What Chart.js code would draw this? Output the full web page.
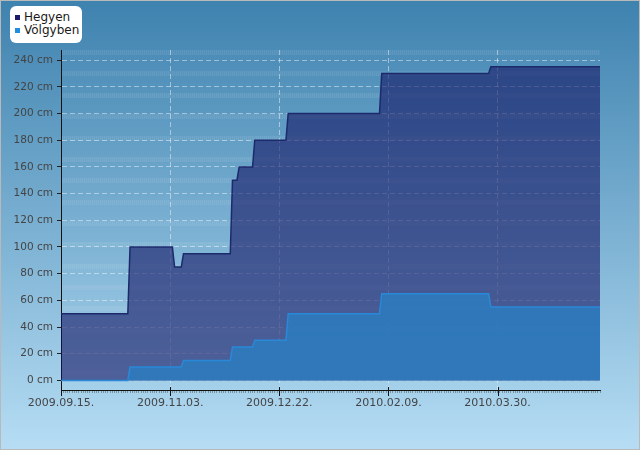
<!DOCTYPE html>
<html>
<head>
<meta charset="utf-8">
<script src="https://cdn.jsdelivr.net/npm/chart.js@4.4.1/dist/chart.umd.min.js"></script>
<style>
  html, body { margin: 0; padding: 0; background: #fff; }
  #wrap { position: relative; width: 640px; height: 450px; }
  #legend {
    position: absolute; left: 10px; top: 6px; width: 72px; height: 37px;
    background: #fff; border-radius: 6px; box-sizing: border-box;
    padding: 5px 0 0 5px; font: 12px "DejaVu Sans", sans-serif; color: #1a1a1a;
  }
  #legend div { height: 13px; line-height: 13px; white-space: nowrap; }
  #legend span { display: inline-block; width: 5px; height: 5px; margin-right: 4px; vertical-align: 1px; }
</style>
</head>
<body>
<div id="wrap">
  <canvas id="chart"></canvas>
  <div id="legend"></div>
</div>
<script>
// snow depth, cm – change points (daily readings, linear between)
var hegyenDates = ['2009-09-15', '2009-10-15', '2009-10-16', '2009-11-04', '2009-11-05', '2009-11-08',
  '2009-11-09', '2009-11-30', '2009-12-01', '2009-12-03', '2009-12-04', '2009-12-10', '2009-12-11',
  '2009-12-25', '2009-12-26', '2010-02-05', '2010-02-06', '2010-03-26', '2010-03-27', '2010-05-15'];
var hegyenValues = [50, 50, 100, 100, 85, 85, 95, 95, 150, 150, 160, 160, 180, 180, 200, 200, 230, 230, 235, 235];

var volgybenDates = ['2009-09-15', '2009-10-15', '2009-10-16', '2009-11-08', '2009-11-09', '2009-11-30',
  '2009-12-01', '2009-12-10', '2009-12-11', '2009-12-25', '2009-12-26', '2010-02-05', '2010-02-06',
  '2010-03-26', '2010-03-27', '2010-05-15'];
var volgybenValues = [0, 0, 10, 10, 15, 15, 25, 25, 30, 30, 50, 50, 65, 65, 55, 55];

var seriesNames = ['Hegyen', 'Völgyben'];
var xTickLabels = ['2009.09.15.', '2009.11.03.', '2009.12.22.', '2010.02.09.', '2010.03.30.'];
var yTickValues = [0, 20, 40, 60, 80, 100, 120, 140, 160, 180, 200, 220, 240];

var START = Date.UTC(2009, 8, 15);
function dayOf(s) {
  var p = s.replace(/\.$/, '').split(/[-.]/);
  return Math.round((Date.UTC(+p[0], +p[1] - 1, +p[2]) - START) / 86400000);
}
function points(dates, values) {
  return dates.map(function (d, i) { return { x: dayOf(d), y: values[i] }; });
}

var lastDay = dayOf('2010-05-15');
var labelDays = xTickLabels.map(dayOf);
var dayTicks = [];
for (var d = 0; d <= lastDay; d++) dayTicks.push(d);

var gridWhite = 'rgba(255,255,255,0.45)';

var bgPlugin = {
  id: 'bg',
  beforeDraw: function (chart) {
    var c = chart.ctx, a = chart.chartArea;
    var g = c.createLinearGradient(0, 0, 0, chart.height);
    g.addColorStop(0, '#3e82af');
    g.addColorStop(1, '#b6ddf4');
    c.save();
    c.fillStyle = g;
    c.fillRect(0, 0, chart.width, chart.height);
    // light textured bands in the plot area
    var y = chart.scales.y;
    for (var v = 246; v > -8; v -= 16) {
      var py = Math.round(y.getPixelForValue(v)) - 2;
      c.fillStyle = 'rgba(255,255,255,0.045)';
      c.fillRect(a.left, py, a.right - a.left, 5);
      c.fillStyle = 'rgba(255,255,255,0.06)';
      for (var px = a.left + 1; px < a.right; px += 2) c.fillRect(px, py, 1, 5);
    }
    c.restore();
  },
  afterDraw: function (chart) {
    var c = chart.ctx, x = chart.scales.x, a = chart.chartArea;
    c.save();
    c.strokeStyle = '#111';
    c.lineWidth = 1;
    labelDays.forEach(function (d) {
      var px = Math.round(x.getPixelForValue(d)) + 0.5;
      c.beginPath();
      c.moveTo(px, a.bottom - 3);
      c.lineTo(px, a.bottom + 6);
      c.stroke();
    });
    c.strokeStyle = '#b9b9b9';
    c.strokeRect(0.5, 0.5, chart.width - 1, chart.height - 1);
    c.restore();
  }
};

var ctx = document.getElementById('chart').getContext('2d');
new Chart(ctx, {
  type: 'line',
  data: {
    datasets: [
      {
        label: seriesNames[0],
        data: points(hegyenDates, hegyenValues),
        borderColor: '#1c2a6c',
        backgroundColor: 'rgba(20,22,100,0.6)',
        borderWidth: 1.5,
        fill: 'origin',
        order: 2
      },
      {
        label: seriesNames[1],
        data: points(volgybenDates, volgybenValues),
        borderColor: '#2a88d8',
        backgroundColor: 'rgba(44,125,190,0.85)',
        borderWidth: 1.5,
        fill: 'origin',
        order: 1
      }
    ]
  },
  options: {
    responsive: true,
    maintainAspectRatio: false,
    animation: false,
    layout: { padding: { left: 0, right: 40, top: 50, bottom: 0 } },
    elements: { point: { radius: 0 }, line: { tension: 0 } },
    plugins: { legend: { display: false }, tooltip: { enabled: false } },
    scales: {
      x: {
        type: 'linear',
        min: 0,
        max: lastDay,
        afterBuildTicks: function (s) { s.ticks = dayTicks.map(function (v) { return { value: v }; }); },
        afterFit: function (s) { s.height = 60; },
        ticks: {
          autoSkip: false,
          maxRotation: 0,
          minRotation: 0,
          padding: 4,
          color: '#444',
          font: { family: 'DejaVu Sans', size: 11 },
          callback: function (v) {
            var i = labelDays.indexOf(v);
            return i >= 0 ? xTickLabels[i] : '';
          }
        },
        grid: {
          color: function (c) { return c.tick && labelDays.indexOf(c.tick.value) > 0 ? gridWhite : 'rgba(0,0,0,0)'; },
          tickColor: 'rgba(70,70,70,0.45)',
          tickLength: 3
        },
        border: { color: '#111', width: 1, dash: [5, 3] }
      },
      y: {
        min: -7.2,
        max: 247.6,
        afterBuildTicks: function (s) { s.ticks = yTickValues.map(function (v) { return { value: v }; }); },
        afterFit: function (s) { s.width = 61; },
        ticks: {
          padding: 4,
          color: '#444',
          font: { family: 'DejaVu Sans', size: 10.5 },
          callback: function (v) { return v + ' cm'; }
        },
        grid: { color: gridWhite, tickColor: '#222', tickLength: 4 },
        border: { color: '#111', width: 1, dash: [5, 3] }
      }
    }
  },
  plugins: [bgPlugin]
});

// legend box
var legendColors = ['#1a1a70', '#1e8ee0'];
document.getElementById('legend').innerHTML = seriesNames.map(function (n, i) {
  return '<div><span style="background:' + legendColors[i] + '"></span>' + n + '</div>';
}).join('');
</script>
</body>
</html>
